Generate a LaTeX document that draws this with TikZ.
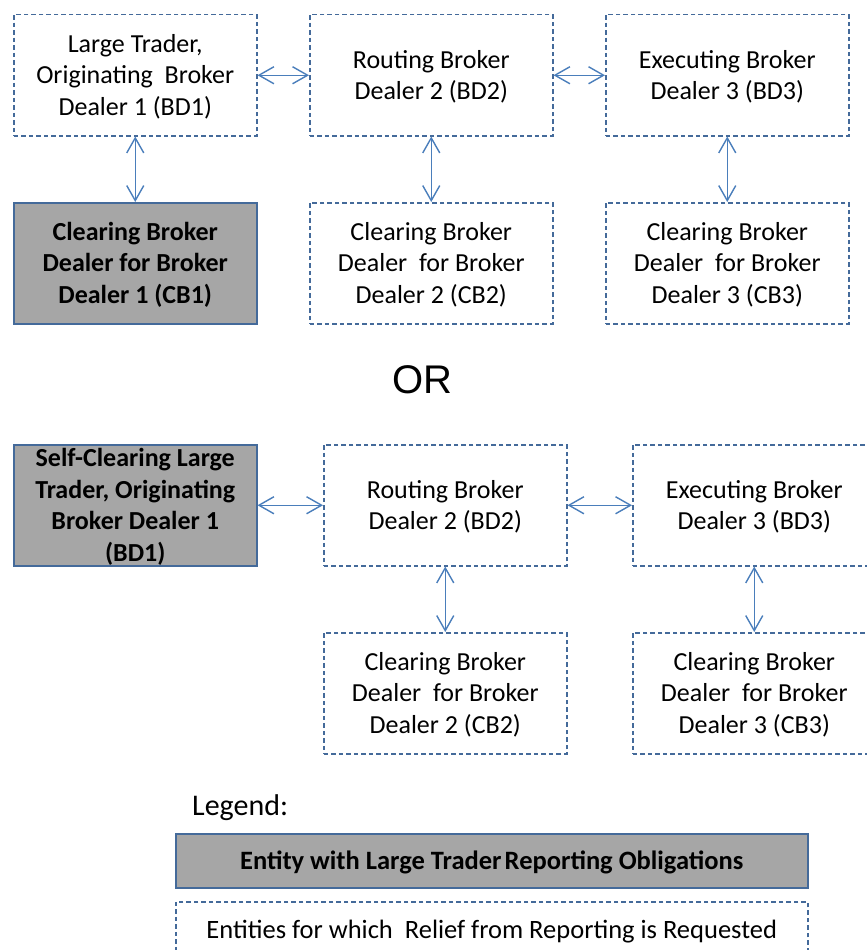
\documentclass[tikz,border=0pt]{standalone}
\usepackage{fontspec}
\setmainfont{Carlito}
\newfontfamily\arialfont{Liberation Sans}
\usetikzlibrary{arrows.meta}
\definecolor{dashblue}{RGB}{68,106,154}
\definecolor{arrowblue}{RGB}{74,126,187}
\definecolor{boxgrey}{RGB}{166,166,166}
\tikzset{
  boxbase/.style={line width=1.5pt,minimum width=243pt,minimum height=121pt,inner sep=0pt,anchor=north west},
  dbox/.style={boxbase,draw=dashblue,dash pattern=on 4.5pt off 3pt},
  gbox/.style={boxbase,draw=dashblue,fill=boxgrey},
  txt/.style={align=center,inner sep=0pt,yshift=-1.5pt,font=\fontsize{26}{31.5}\selectfont},
  btxt/.style={align=center,inner sep=0pt,yshift=-1.5pt,font=\fontsize{26}{31.5}\selectfont\bfseries},
  conn/.style={arrowblue,line width=1.4pt,{Straight Barb[length=15pt,width=17pt]}-{Straight Barb[length=15pt,width=17pt]}}
}
\begin{document}
\begin{tikzpicture}[x=1pt,y=-1pt]
\clip (0,0) rectangle (867,950);
\fill[white] (0,0) rectangle (867,950);
% top scenario
\node[dbox] (bd1) at (13,14) {};
\node[dbox] (bd2) at (309,14) {};
\node[dbox] (bd3) at (605,14) {};
\node[gbox] (cb1) at (13,202) {};
\node[dbox] (cb2) at (309,202) {};
\node[dbox] (cb3) at (605,202) {};
\node[txt] at (bd1.center) {Large Trader,\\Originating\ \ Broker\\Dealer 1 (BD1)};
\node[txt] at (bd2.center) {Routing Broker\\Dealer 2 (BD2)};
\node[txt] at (bd3.center) {Executing Broker\\Dealer 3 (BD3)};
\node[btxt] at (cb1.center) {Clearing Broker\\Dealer for Broker\\Dealer 1 (CB1)};
\node[txt] at (cb2.center) {Clearing Broker\\Dealer\ \ for Broker\\Dealer 2 (CB2)};
\node[txt] at (cb3.center) {Clearing Broker\\Dealer\ \ for Broker\\Dealer 3 (CB3)};
\draw[conn] (bd1) -- (bd2);
\draw[conn] (bd2) -- (bd3);
\draw[conn] (bd1) -- (cb1);
\draw[conn] (bd2) -- (cb2);
\draw[conn] (bd3) -- (cb3);
% OR
\node[font=\arialfont\fontsize{40}{40}\selectfont,inner sep=0pt] (or) at (422.5,380) {OR};
% bottom scenario
\node[gbox] (sbd1) at (13,444) {};
\node[dbox] (rbd2) at (323,444) {};
\node[dbox] (ebd3) at (632,444) {};
\node[dbox] (rcb2) at (323,632) {};
\node[dbox] (rcb3) at (632,632) {};
\node[btxt] at (sbd1.center) {Self-Clearing Large\\Trader, Originating\\Broker Dealer 1\\(BD1)};
\node[txt] at (rbd2.center) {Routing Broker\\Dealer 2 (BD2)};
\node[txt] at (ebd3.center) {Executing Broker\\Dealer 3 (BD3)};
\node[txt] at (rcb2.center) {Clearing Broker\\Dealer\ \ for Broker\\Dealer 2 (CB2)};
\node[txt] at (rcb3.center) {Clearing Broker\\Dealer\ \ for Broker\\Dealer 3 (CB3)};
\draw[conn] (sbd1) -- (rbd2);
\draw[conn] (rbd2) -- (ebd3);
\draw[conn] (rbd2) -- (rcb2);
\draw[conn] (ebd3) -- (rcb3);
% legend
\node[anchor=west,inner sep=0pt,font=\fontsize{30}{32}\selectfont] (leg) at (192,808) {Legend:};
\node[gbox,minimum width=632pt,minimum height=54pt] (lg1) at (175,833) {};
\node[btxt,font=\fontsize{26.5}{30}\selectfont\bfseries] at (lg1.center) {Entity with Large Trader\hspace{0.12em}Reporting Obligations};
\node[dbox,minimum width=632pt,minimum height=56pt] (lg2) at (175,901) {};
\node[txt,font=\fontsize{26.5}{30}\selectfont] at (lg2.center) {Entities for which\ \ Relief from Reporting is Requested};
\end{tikzpicture}
\end{document}
